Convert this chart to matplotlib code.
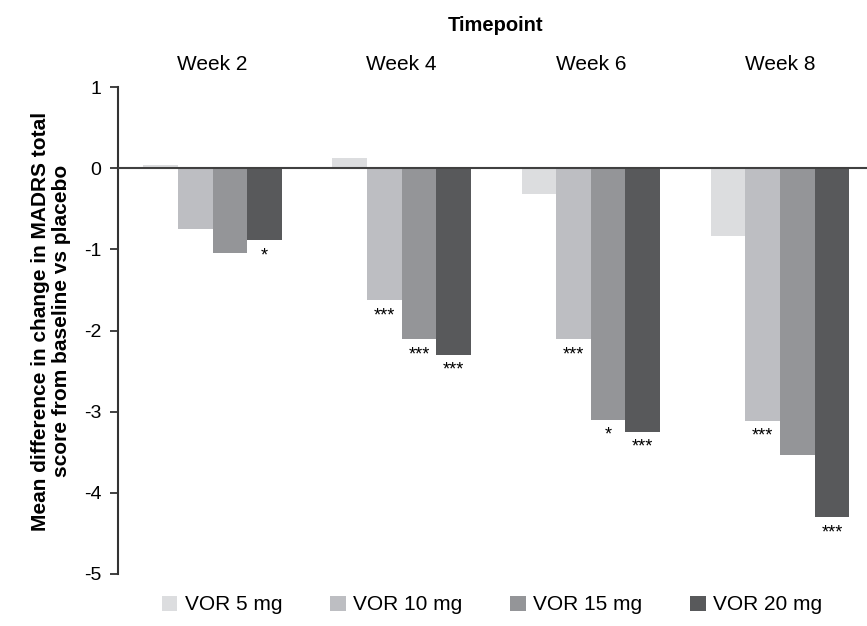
import numpy as np
import matplotlib
matplotlib.use("Agg")
import matplotlib.pyplot as plt
from matplotlib.patches import Patch

plt.rcParams['font.family'] = ['Liberation Sans', 'DejaVu Sans']

# Data
timepoints = ['Week 2', 'Week 4', 'Week 6', 'Week 8']
series_names = ['VOR 5 mg', 'VOR 10 mg', 'VOR 15 mg', 'VOR 20 mg']
vor5 = [0.04, 0.12, -0.32, -0.84]
vor10 = [-0.745, -1.63, -2.11, -3.11]
vor15 = [-1.04, -2.11, -3.10, -3.53]
vor20 = [-0.89, -2.30, -3.25, -4.30]
sig5 = ['', '', '', '']
sig10 = ['', '***', '***', '***']
sig15 = ['', '***', '*', '']
sig20 = ['*', '***', '***', '***']
y_ticks = [1, 0, -1, -2, -3, -4, -5]

series = [vor5, vor10, vor15, vor20]
sigs = [sig5, sig10, sig15, sig20]
colors = ['#dcdddf', '#bdbec2', '#949598', '#58595b']

fig = plt.figure(figsize=(8.67, 6.26), dpi=100)
ax = fig.add_axes([118 / 867, 1 - 574 / 626, 1 - 118 / 867, (574 - 87) / 626])

x = np.arange(len(timepoints))
width = 0.183
for i, (vals, sg, c) in enumerate(zip(series, sigs, colors)):
    pos = x + (i - 1.5) * width
    ax.bar(pos, vals, width=width, color=c, edgecolor='none', zorder=2)
    # significance stars just under each bar
    for px, v, s in zip(pos, vals, sg):
        if s:
            ax.annotate(s, xy=(px, v), xytext=(0, -5), textcoords='offset points',
                        ha='center', va='top', fontsize=13, color='black')

ax.axhline(0, color='#404040', lw=1.5, zorder=3)

ax.set_xlim(-0.5, 3.46)
ax.set_ylim(-5, 1)
ax.set_yticks(y_ticks)
ax.set_yticklabels([str(t) for t in y_ticks])
ax.tick_params(axis='y', direction='out', length=6, width=1.3, color='#333333',
               labelsize=14, pad=6)

ax.xaxis.tick_top()
ax.set_xticks(x)
ax.set_xticklabels(timepoints)
ax.tick_params(axis='x', length=0, labelsize=15, pad=9)

for side in ['top', 'right', 'bottom']:
    ax.spines[side].set_visible(False)
ax.spines['left'].set_color('#333333')
ax.spines['left'].set_linewidth(1.5)

fig.text(496 / 867, 1 - 30.7 / 626, 'Timepoint', ha='center', va='baseline',
         fontsize=14.5, fontweight='bold')
fig.text(51 / 867, 1 - 321 / 626,
         'Mean difference in change in MADRS total\nscore from baseline vs placebo',
         rotation=90, ha='center', va='center', multialignment='center',
         fontsize=15, fontweight='bold', linespacing=1.1)

handles = [Patch(facecolor=c, edgecolor='none') for c in colors]
fig.legend(handles, series_names, loc='center', bbox_to_anchor=(492 / 867, 1 - 605 / 626),
           ncol=4, frameon=False, fontsize=15, handlelength=0.75, handleheight=0.75,
           handletextpad=0.35, columnspacing=2.3, borderpad=0)

fig.savefig('out.png', dpi=100)
